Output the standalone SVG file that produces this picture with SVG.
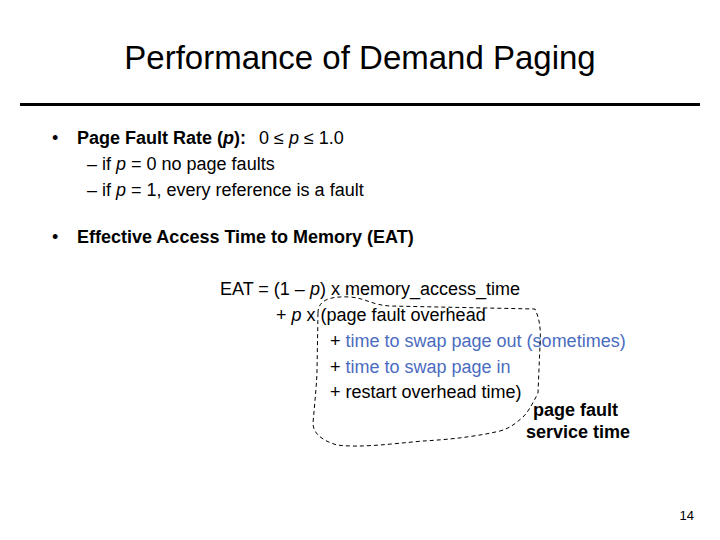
<svg xmlns="http://www.w3.org/2000/svg" width="720" height="540" viewBox="0 0 720 540">
<style>
text{font-family:"Liberation Sans",Arial,sans-serif;fill:#000}
.t{font-size:18px}
.b{font-weight:bold}
.blue{fill:#4a6cc0}
</style>
<rect width="720" height="540" fill="#fff"/>
<text x="360" y="69" text-anchor="middle" font-size="33">Performance of Demand Paging</text>
<rect x="20" y="103" width="680" height="3" fill="#000"/>
<text class="t" x="52" y="144">•</text>
<text class="t b" x="77" y="144">Page Fault Rate (<tspan font-style="italic">p</tspan>):</text>
<text class="t" x="259" y="144">0 ≤ <tspan font-style="italic">p</tspan> ≤ 1.0</text>
<text class="t" x="87" y="170">–  if <tspan font-style="italic">p</tspan> = 0 no page faults</text>
<text class="t" x="87" y="196">–  if <tspan font-style="italic">p</tspan> = 1, every reference is a fault</text>
<text class="t" x="52" y="243">•</text>
<text class="t b" x="77" y="243">Effective Access Time to Memory (EAT)</text>
<text class="t" x="220" y="295">EAT = (1 – <tspan font-style="italic">p</tspan>) x memory_access_time</text>
<text class="t" x="276" y="321">+ <tspan font-style="italic">p</tspan> x (page fault overhead</text>
<text class="t" x="330" y="347">+ <tspan class="blue">time to swap page out (sometimes)</tspan></text>
<text class="t" x="330" y="373">+ <tspan class="blue">time to swap page in</tspan></text>
<text class="t" x="330" y="398">+ restart overhead time)</text>
<text class="t b" x="533" y="416">page fault</text>
<text class="t b" x="526" y="438">service time</text>
<path d="M318,313 C318,300 330,296 350,297 C365,298 372,305 390,306 L535,309 C540,320 541,330 540,345 L538,393 C532,405 528,412 523,417 C515,424 510,428 500,431 C470,438 440,440 423,441 C390,444 360,448 337,445 C320,440 313,432 313,423 C315,400 317,380 317,370 Z" fill="none" stroke="#000" stroke-width="1" stroke-dasharray="4,3"/>
<text x="694" y="520" text-anchor="end" font-size="13">14</text>
</svg>
